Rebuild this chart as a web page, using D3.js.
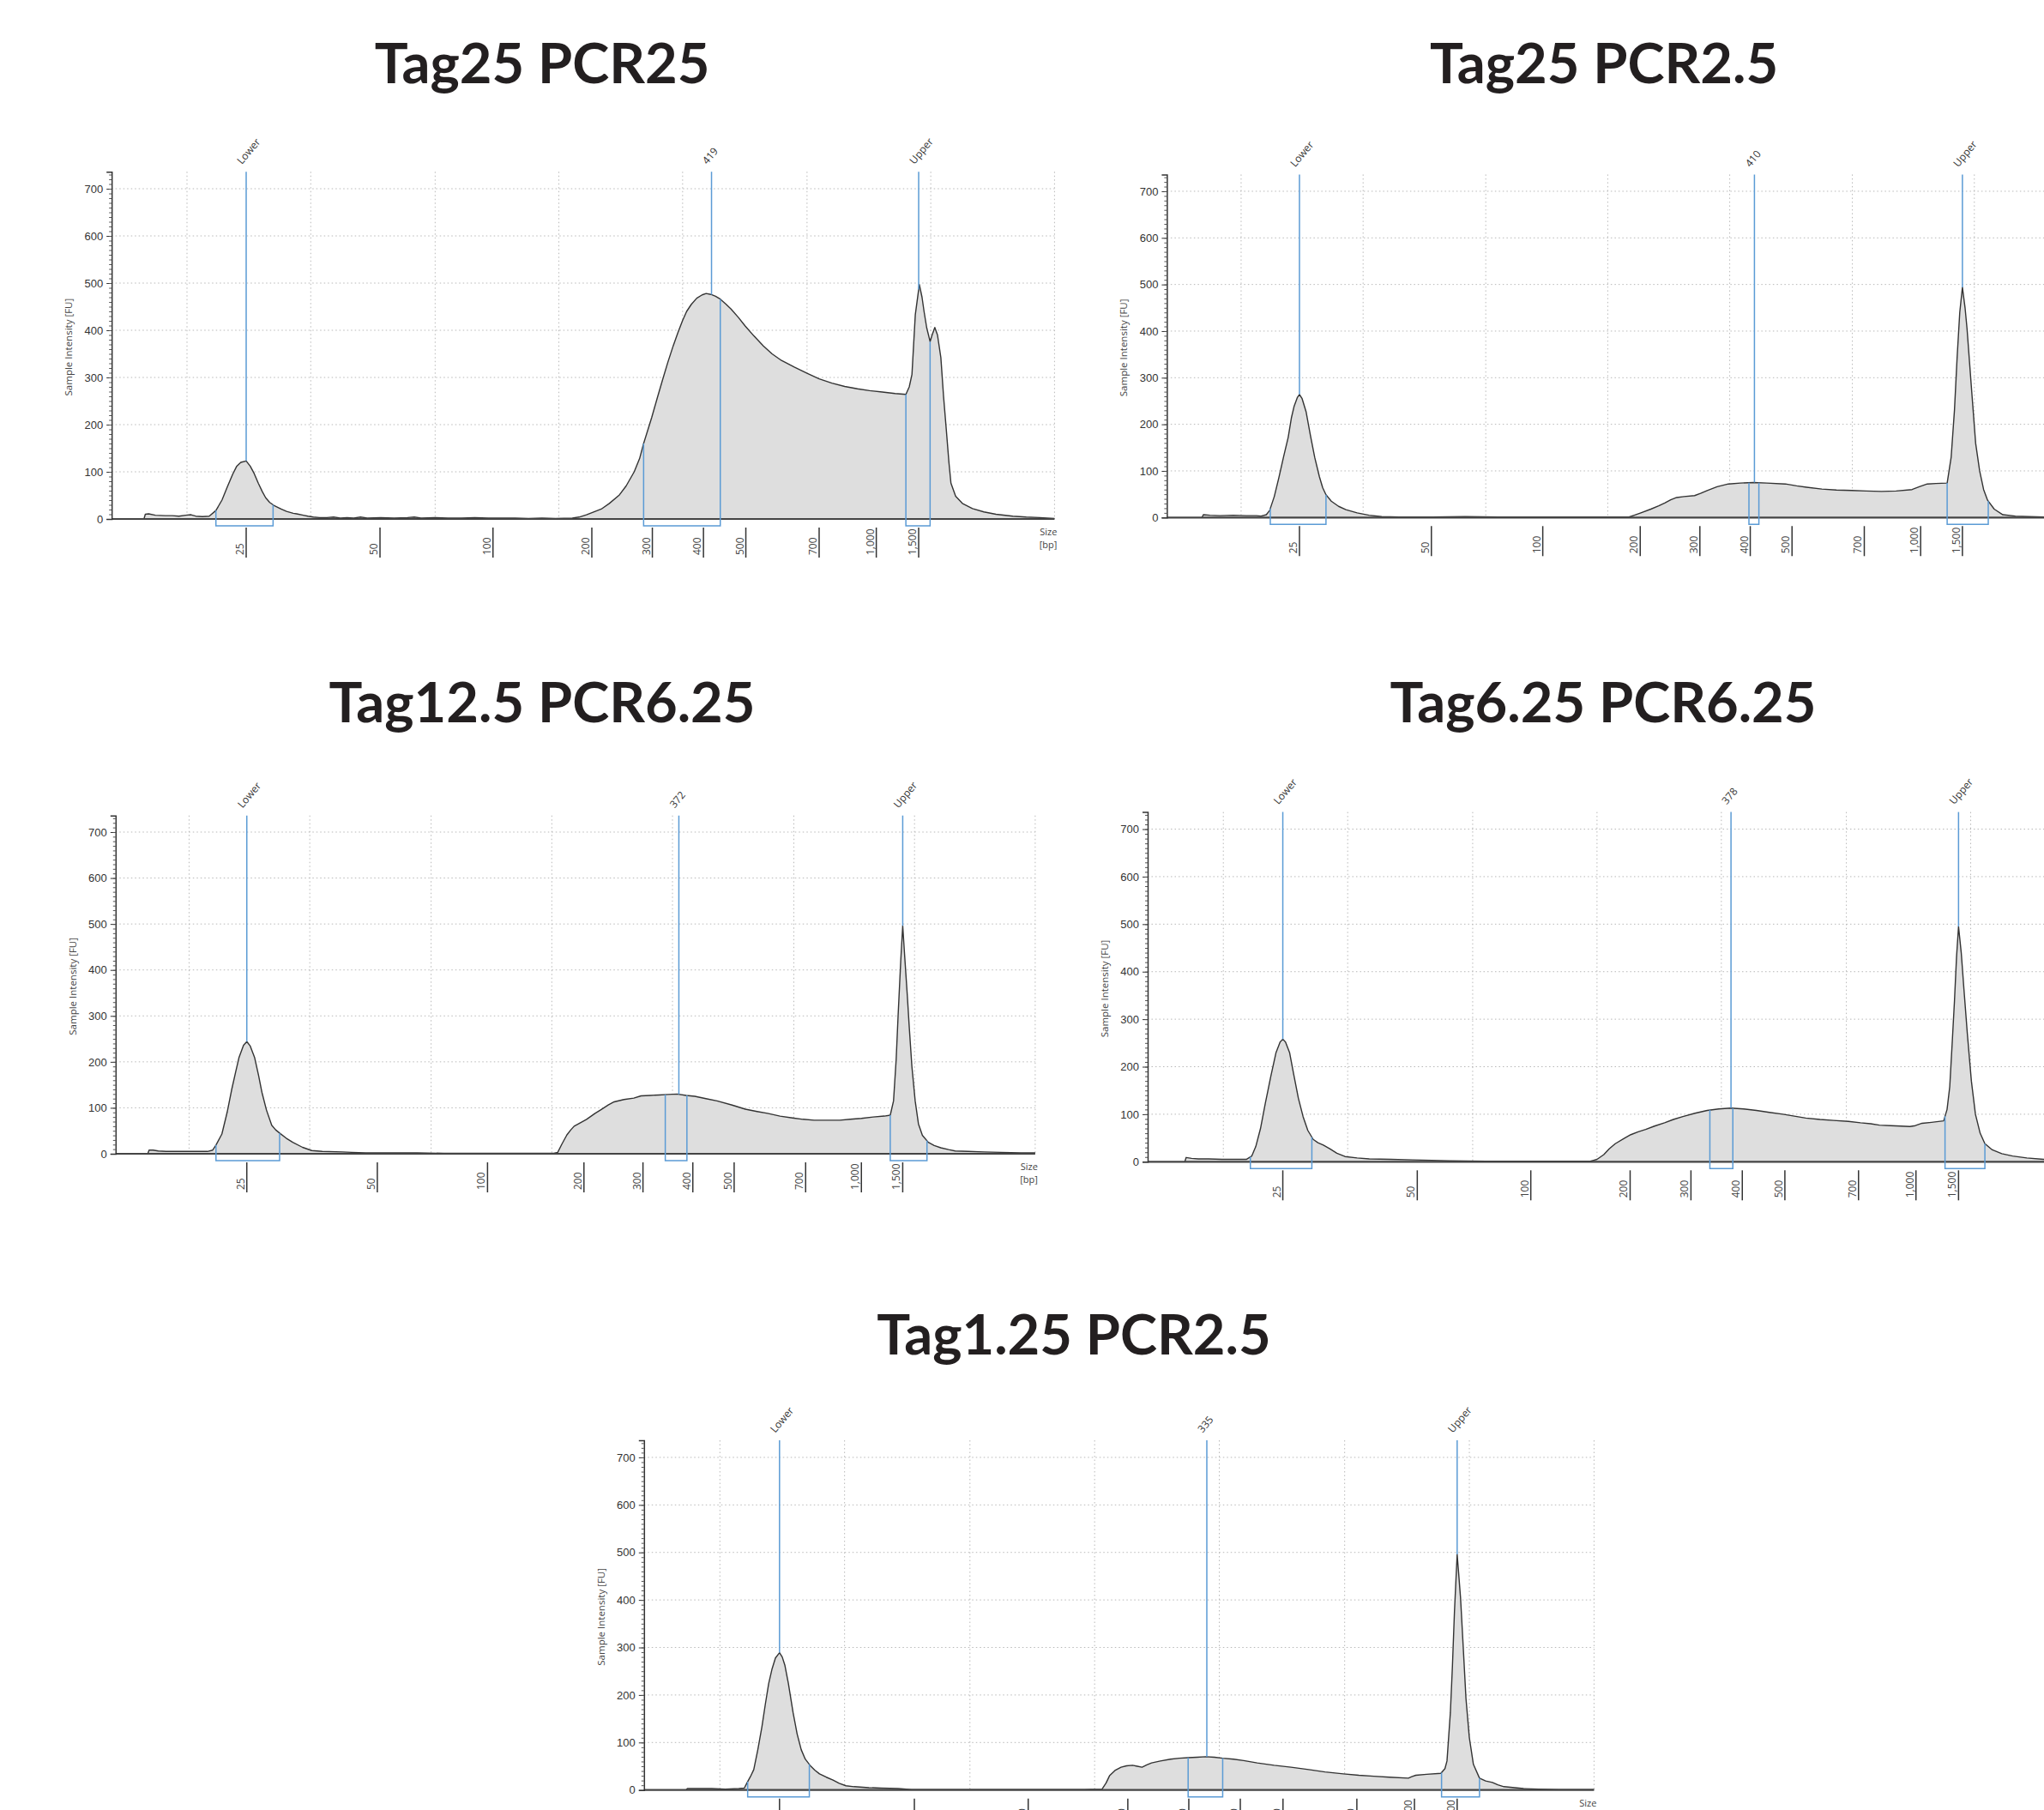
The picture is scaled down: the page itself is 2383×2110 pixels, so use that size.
<!DOCTYPE html>
<html><head><meta charset="utf-8">
<script src="https://cdn.jsdelivr.net/npm/d3@7"></script>
<style>body{margin:0;background:#fff;} svg{display:block}</style>
</head><body><svg id="c" width="2383" height="2110"></svg>
<script>
// ---------- data ----------
// ladder: size (bp) and its migration position (0 = Lower marker, 100 = Upper marker)
const ladderBp = [25, 50, 100, 200, 300, 400, 500, 700, 1000, 1500];
const ladderMigration = [0, 19.9, 36.7, 51.4, 60.4, 68.0, 74.3, 85.2, 93.7, 100];
const yTicks = [0, 100, 200, 300, 400, 500, 600, 700];
const gridMigration = [-8.8, 9.6, 28.1, 46.5, 64.9, 83.4, 101.8, 120.2];

const titles = ["Tag25 PCR25", "Tag25 PCR2.5", "Tag12.5 PCR6.25", "Tag6.25 PCR6.25", "Tag1.25 PCR2.5"];
const peakNames = [["Lower","419","Upper"],["Lower","410","Upper"],["Lower","372","Upper"],["Lower","378","Upper"],["Lower","335","Upper"]];
const peakSizes = [[25,419,1500],[25,410,1500],[25,372,1500],[25,378,1500],[25,335,1500]];
const peakRegions = [
  [[-4.5,4.0],[59.1,70.5],[98.1,101.7]],
  [[-4.4,4.0],[67.8,69.3],[97.7,103.9]],
  [[-4.7,5.0],[63.8,67.1],[98.1,103.7]],
  [[-4.8,4.3],[63.2,66.6],[98.0,103.9]],
  [[-4.7,4.4],[60.3,65.4],[97.7,103.3]]
];

// traces: [migration, intensity FU]
const trace1 = [[-15.2,0],[-15.0,10],[-14.5,11],[-13.5,8],[-12,7],[-11,7],[-10,6],[-9,8],[-8.2,9],[-7.5,6],[-6.5,5],[-5.5,6],[-4.5,18],[-3.6,40],[-2.8,68],[-2,95],[-1.4,112],[-0.8,120],[0,123],[0.6,112],[1.2,96],[1.8,76],[2.4,58],[2.9,45],[3.5,35],[4.1,29],[4.8,24],[5.2,21],[6,16],[7,12],[7.5,11],[8.5,8],[9.2,6],[10,4],[10.9,3],[12,3],[13,4],[14,2],[15,3],[16,2],[17,4],[18,2],[20,3],[22,2],[24,3],[25,4],[26,2],[28,3],[30,2],[32,2],[34,3],[36,2],[38,2],[40,2],[42,1],[44,2],[46,1],[48.5,2],[49.5,4],[50.6,9],[51.5,14],[52.8,21],[54,33],[55.5,51],[56.5,70],[57.7,100],[58.5,128],[59.1,160],[60.3,215],[61.1,255],[61.9,294],[62.7,332],[63.5,367],[64.2,395],[64.9,421],[65.5,440],[66.2,455],[67,468],[67.8,475],[68.4,478],[69.1,476],[69.8,472],[70.5,466],[71.3,456],[72.1,445],[73.2,427],[74.2,409],[75.5,388],[76.9,367],[78.2,350],[79.6,336],[81.5,322],[83.4,309],[85.2,297],[87.1,288],[89,281],[90.9,276],[92.7,272],[94.6,269],[96.5,266],[98.1,264],[98.6,280],[99,306],[99.5,433],[100.1,497],[100.5,470],[100.8,440],[101.2,405],[101.7,376],[102,390],[102.4,406],[102.8,390],[103.3,342],[103.7,260],[104.1,191],[104.5,120],[104.8,76],[105.5,48],[106.5,33],[108,22],[109.7,15],[111.5,10],[114,6],[116,4],[118,3],[120.2,1]];
const trace2 = [[-14.7,0],[-14.5,6],[-13.5,5],[-12,4],[-10,5],[-8,4],[-6.5,4],[-5.8,3],[-5,6],[-4.5,15],[-3.8,45],[-3.1,86],[-2.4,130],[-1.7,172],[-1.2,215],[-0.8,239],[-0.3,258],[0,264],[0.4,255],[1,227],[1.6,180],[2.3,129],[3,88],[3.5,64],[4,49],[4.8,35],[5.9,24],[7,17],[8.7,10],[10.5,5],[12.4,2],[15,1],[20,1],[25,2],[30,1],[35,1],[40,1],[45,1],[49.7,1],[50.5,5],[51.5,10],[53,18],[54.2,25],[55.1,31],[56,38],[56.9,43],[58,45],[59.6,47],[60.5,52],[61.5,58],[63,66],[64.7,72],[66.5,74],[68.5,75],[70.5,74],[73.3,72],[75,68],[76.5,65],[78.8,61],[81,59],[83.3,58],[85.5,57],[87.8,56],[90,57],[92.4,60],[93.5,66],[94.7,72],[96,73],[97.7,74],[98.3,129],[98.8,230],[99.2,343],[99.6,440],[100,494],[100.4,450],[100.7,405],[101.3,290],[102,159],[102.6,100],[103.2,60],[103.8,37],[104.8,18],[106.1,6],[108,3],[110,2],[112.5,1],[116,1],[120.2,1]];
const trace3 = [[-15.1,0],[-14.9,8],[-14.3,8],[-13.5,6],[-12.3,5],[-10,5],[-8,5],[-6,5],[-5.2,8],[-4.7,19],[-3.8,43],[-3,90],[-2.3,140],[-1.7,178],[-1.2,209],[-0.5,236],[0,244],[0.5,235],[1.2,209],[1.8,170],[2.3,134],[3,95],[3.8,62],[4.4,52],[5,45],[6,34],[7,25],[8.5,14],[9.9,7],[11.5,5],[14.6,4],[16,3],[18.1,2],[22,2],[26,2],[30,1],[35,1],[40,1],[44,1],[46.8,1],[47.4,3],[48,20],[48.8,41],[49.4,52],[49.9,60],[50.8,67],[51.8,75],[53.1,88],[54,96],[55.1,106],[56,113],[57.5,118],[59,121],[60.1,126],[61.5,127],[62.8,128],[64.2,129],[65.6,130],[67,127],[68.3,125],[70,120],[71.7,115],[74,106],[76,97],[77.8,92],[79.4,88],[81.3,82],[83.2,78],[84.8,75],[86.5,73],[88.5,73],[90.4,73],[92,75],[93.7,77],[95.5,80],[97.2,82],[98.1,84],[98.6,115],[99,205],[99.3,302],[99.7,420],[100,496],[100.3,430],[100.7,345],[101,275],[101.4,190],[101.9,115],[102.4,65],[103,40],[103.9,25],[104.8,18],[105.8,13],[107,9],[108,6],[110,5],[112.4,4],[115,3],[118,2],[120.2,2]];
const trace4 = [[-14.5,0],[-14.3,9],[-13.5,7],[-12.5,6],[-11,6],[-9,5],[-7,5],[-5.4,5],[-4.6,12],[-4,32],[-3.3,70],[-2.6,122],[-1.8,178],[-1,230],[-0.4,252],[0,258],[0.4,252],[1,230],[1.6,185],[2.3,134],[3,95],[3.7,66],[4.5,47],[5.2,40],[6,35],[7,27],[8,18],[9.2,11],[11,8],[12.8,6],[16,5],[19.2,4],[22,3],[24.6,2],[30,1],[35,1],[40,1],[45.5,1],[46,3],[46.5,5],[47.5,15],[48.3,27],[49.2,38],[50.5,49],[51.5,57],[52.6,63],[53.7,68],[55,75],[56.5,82],[57.8,89],[59.2,95],[61,102],[62.8,108],[64.5,111],[66.3,113],[68.2,111],[70.1,108],[72,104],[74,100],[75.7,96],[77.4,92],[79.5,89],[81.5,87],[83.7,85],[85.5,82],[87,80],[88.3,77],[90,76],[91.5,75],[92.8,74],[93.6,76],[94.6,81],[96,83],[97.8,86],[98.3,110],[98.7,158],[99.1,260],[99.4,339],[99.7,430],[100,495],[100.4,440],[100.8,363],[101.3,270],[101.9,170],[102.5,100],[103.2,60],[103.9,38],[105,25],[106.4,17],[108,12],[110.1,8],[112.6,5],[116,3],[120.2,2]];
const trace5 = [[-13.8,0],[-13.6,3],[-12,3],[-10,3],[-8,2],[-6,3],[-5.2,4],[-4.8,15],[-4.3,28],[-3.8,43],[-3.2,85],[-2.6,133],[-2.1,180],[-1.6,224],[-1.1,255],[-0.6,278],[0,289],[0.4,280],[0.8,262],[1.3,225],[2,163],[2.6,118],[3.2,85],[3.8,65],[4.5,52],[5.2,42],[5.9,34],[6.9,27],[7.9,21],[8.8,14],[9.8,9],[11,7],[13.2,5],[15,4],[17.5,3],[19.5,1],[25,1],[30,1],[35,1],[40,1],[45,1],[47.6,2],[48.2,15],[48.7,30],[49.5,41],[50.4,48],[51.2,51],[52.1,52],[52.8,50],[53.5,48],[54.2,53],[54.9,57],[56.2,61],[57.7,65],[59,67],[60.3,68],[61.6,69],[62.9,70],[64.2,69],[65.4,67],[67,65],[68.5,62],[70.5,57],[73,52],[75.5,48],[78.1,43],[80.5,38],[83.2,34],[85.5,31],[87.7,29],[90,27],[92.8,25],[93.3,28],[93.9,31],[95.5,33],[97.6,35],[98.2,45],[98.5,61],[99,163],[99.3,260],[99.6,374],[100,496],[100.2,460],[100.5,405],[100.9,300],[101.3,193],[101.8,110],[102.4,54],[103.3,25],[104.2,19],[105.2,16],[106,11],[106.9,7],[108.5,5],[109.8,3],[112,2],[115,1],[120.2,1]];
const traces = [trace1, trace2, trace3, trace4, trace5];

// ---------- layout ----------
const layout = [
  {left:130.2, right:1229.4, y0:605,   yTop:200.2, tx:632,  ty:97},
  {left:1360.4,right:2444,   y0:603.3, yTop:203.4, tx:1870, ty:97},
  {left:134.8, right:1206.9, y0:1345,  yTop:950.7, tx:632,  ty:842},
  {left:1338,  right:2442.5, y0:1354.3,yTop:946.6, tx:1869, ty:842},
  {left:750.8, right:1858.4, y0:2086.7,yTop:1679,  tx:1252, ty:1579}
];
const W = 2383;
const BLUE = "#5b9bd5";
const svg = d3.select("#c");
const bpToMig = d3.scaleLinear().domain(ladderBp).range(ladderMigration);

function valueAt(tr, u) {
  for (let i = 1; i < tr.length; i++) {
    if (tr[i][0] >= u) {
      const a = tr[i-1], b = tr[i];
      const t = (u - a[0]) / (b[0] - a[0]);
      return a[1] + t * (b[1] - a[1]);
    }
  }
  return tr[tr.length-1][1];
}

layout.forEach((L, p) => {
  const tr = traces[p];
  const x = d3.scaleLinear().domain([-20, 120.2]).range([L.left, L.right]);
  const y = d3.scaleLinear().domain([0, 736]).range([L.y0, L.yTop]);
  const g = svg.append("g");

  // title
  svg.append("text").attr("x", L.tx).attr("y", L.ty).attr("text-anchor", "middle")
    .attr("font-family", "Lato, 'Open Sans', sans-serif").attr("font-weight", 700)
    .attr("font-size", 65).attr("fill", "#231f20").text(titles[p]);

  // grid
  g.append("g").selectAll("line").data(yTicks.filter(d => d > 0)).join("line")
    .attr("x1", L.left).attr("x2", x(120.2)).attr("y1", d => y(d)).attr("y2", d => y(d))
    .attr("stroke", "#b8b8b8").attr("stroke-width", 1).attr("stroke-dasharray", "1.5,3");
  g.append("g").selectAll("line").data(gridMigration).join("line")
    .attr("x1", d => x(d)).attr("x2", d => x(d)).attr("y1", y(736)).attr("y2", y(0))
    .attr("stroke", "#b8b8b8").attr("stroke-width", 1).attr("stroke-dasharray", "1.5,3");

  // trace
  const area = d3.area().x(d => x(d[0])).y0(y(0)).y1(d => y(d[1]));
  const line = d3.line().x(d => x(d[0])).y(d => y(d[1]));
  g.append("path").datum(tr).attr("d", area).attr("fill", "#dedede");
  g.append("path").datum(tr).attr("d", line).attr("fill", "none")
    .attr("stroke", "#333").attr("stroke-width", 1.4).attr("stroke-linejoin", "round");

  // x axis line
  g.append("line").attr("x1", L.left).attr("x2", x(120.2)).attr("y1", y(0)).attr("y2", y(0))
    .attr("stroke", "#444").attr("stroke-width", 2.2);

  // y axis
  const yAxis = d3.axisLeft(y).tickValues(yTicks).tickSize(6).tickPadding(4);
  const ya = g.append("g").attr("transform", `translate(${L.left},0)`).call(yAxis);
  ya.select(".domain").attr("stroke", "#333").attr("stroke-width", 1.5);
  ya.selectAll(".tick line").attr("stroke", "#333");
  ya.selectAll(".tick text").attr("font-family", "'Liberation Sans', Arial, sans-serif")
    .attr("font-size", 13).attr("fill", "#333");
  const yMinor = d3.axisLeft(y).tickValues(d3.range(10, 736, 10)).tickSize(3).tickFormat("");
  const ym = g.append("g").attr("transform", `translate(${L.left},0)`).call(yMinor);
  ym.select(".domain").remove();
  ym.selectAll(".tick line").attr("stroke", "#555");

  g.append("text").attr("transform", `translate(${L.left - 46},${(y(0) + y(736)) / 2 + 2}) rotate(-90)`)
    .attr("text-anchor", "middle").attr("font-family", "'Open Sans', sans-serif")
    .attr("font-size", 11.5).attr("fill", "#444").text("Sample Intensity [FU]");

  // x ticks (ladder sizes)
  const xt = g.append("g").selectAll("g").data(ladderBp).join("g")
    .attr("transform", d => `translate(${x(bpToMig(d))},0)`);
  xt.append("line").attr("y1", y(0) + 10).attr("y2", y(0) + 45)
    .attr("stroke", "#333").attr("stroke-width", 1.5);
  xt.append("text").attr("transform", `translate(-3,${y(0) + 42}) rotate(-90)`)
    .attr("text-anchor", "start").attr("font-family", "'Open Sans', sans-serif")
    .attr("font-size", 12).attr("fill", "#444").text(d => d3.format(",")(d));

  // Size [bp] (only where it falls inside the picture, as in the reference)
  if (x(120.2) + 3 <= W) {
    const st = g.append("text").attr("text-anchor", "end").attr("font-family", "'Open Sans', sans-serif")
      .attr("font-size", 11).attr("fill", "#444");
    st.append("tspan").attr("x", x(120.2) + 3).attr("y", y(0) + 19).text("Size");
    st.append("tspan").attr("x", x(120.2) + 3).attr("y", y(0) + 34).text("[bp]");
  }

  // peak markers
  peakSizes[p].forEach((bp, i) => {
    const u = bpToMig(bp);
    const px = x(u);
    g.append("line").attr("x1", px).attr("x2", px).attr("y1", y(736)).attr("y2", y(valueAt(tr, u)))
      .attr("stroke", BLUE).attr("stroke-width", 1.5);
    g.append("text").attr("transform", `translate(${px - 5},${y(736) - 8}) rotate(-50)`)
      .attr("font-family", "'Open Sans', sans-serif").attr("font-size", 12).attr("fill", "#333")
      .text(peakNames[p][i]);
  });
  // peak regions
  peakRegions[p].forEach(r => {
    const x1 = x(r[0]), x2 = x(r[1]);
    const yb = y(0) + 8;
    g.append("path")
      .attr("d", `M${x1},${y(valueAt(tr, r[0]))}L${x1},${yb}L${x2},${yb}L${x2},${y(valueAt(tr, r[1]))}`)
      .attr("fill", "none").attr("stroke", BLUE).attr("stroke-width", 1.5);
  });
});
</script>
</body></html>
